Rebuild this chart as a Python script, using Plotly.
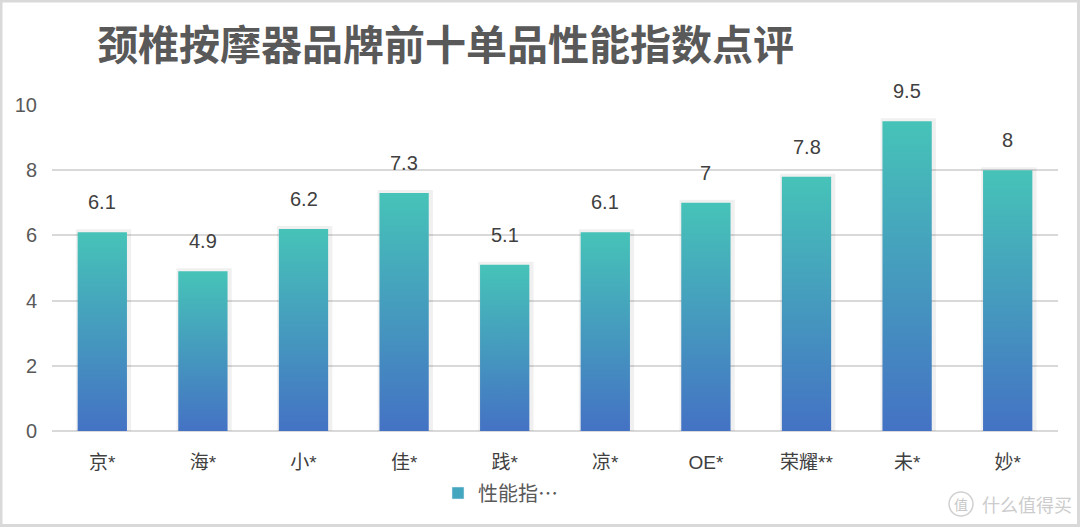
import plotly.graph_objects as go

title = "颈椎按摩器品牌前十单品性能指数点评"
categories = ["京*", "海*", "小*", "佳*", "践*", "凉*", "OE*", "荣耀**", "未*", "妙*"]
values = [6.1, 4.9, 6.2, 7.3, 5.1, 6.1, 7, 7.8, 9.5, 8]
series_name = "性能指…"
y_ticks = [0, 2, 4, 6, 8, 10]

W, H = 1080, 527
ML, MR, MT, MB = 52, 22, 105, 96
PW, PH = W - ML - MR, H - MT - MB

def px_x(p):
    return (p - ML) / PW

def px_y(p):
    return (H - MB - p) / PH

FONT = "Liberation Sans, Noto Sans CJK SC, sans-serif"
TFONT = "Noto Sans CJK SC, sans-serif"
half_w = 0.245
TOP = "#46C3B8"
BOTTOM = "#4472C4"

fig = go.Figure()

for i, v in enumerate(values):
    xs = [i - half_w, i + half_w, i + half_w, i - half_w, i - half_w]
    ys = [0, 0, v, v, 0]
    # soft shadow
    fig.add_trace(go.Scatter(
        x=[x + 0.012 for x in xs], y=ys, mode="lines",
        line=dict(color="rgba(0,0,0,0.06)", width=6),
        showlegend=False, hoverinfo="skip"))
    fig.add_trace(go.Scatter(
        x=xs, y=ys, mode="none", fill="toself",
        fillgradient=dict(type="vertical", colorscale=[[0, BOTTOM], [1, TOP]]),
        showlegend=False, hoverinfo="skip"))

# legend entry
fig.add_trace(go.Bar(x=[None], y=[None], name=series_name,
                     marker=dict(color="#45A6BF"), showlegend=True))

annotations = []
for i, v in enumerate(values):
    annotations.append(dict(
        x=i, y=v, xref="x", yref="y", text=f"{v:g}", showarrow=False,
        yanchor="middle", yshift=30,
        font=dict(family=FONT, size=20, color="#404040")))

annotations.append(dict(
    x=px_x(95), y=px_y(42), xref="paper", yref="paper", text=f"<b>{title}</b>",
    showarrow=False, xanchor="left", yanchor="middle",
    font=dict(family=TFONT, size=41, color="#595959")))

# watermark
annotations.append(dict(
    x=px_x(961), y=px_y(504), xref="paper", yref="paper", text="值",
    showarrow=False, xanchor="center", yanchor="middle",
    font=dict(family=TFONT, size=14, color="#c8c8c8")))
annotations.append(dict(
    x=px_x(980), y=px_y(504), xref="paper", yref="paper", text="什么值得买",
    showarrow=False, xanchor="left", yanchor="middle",
    font=dict(family=TFONT, size=18, color="#cccccc")))

shapes = [
    dict(type="rect", xref="paper", yref="paper",
         x0=px_x(1), x1=px_x(1078.5), y0=px_y(1), y1=px_y(525.5),
         line=dict(color="#d9d9d9", width=3), fillcolor="rgba(0,0,0,0)", layer="above"),
    dict(type="circle", xref="paper", yref="paper",
         x0=px_x(949), x1=px_x(973), y0=px_y(516), y1=px_y(492),
         line=dict(color="#d0d0d0", width=1.5)),
]

fig.update_layout(
    width=W, height=H,
    margin=dict(l=ML, r=MR, t=MT, b=MB),
    paper_bgcolor="white", plot_bgcolor="white",
    font=dict(family=FONT, color="#595959"),
    showlegend=True,
    legend=dict(orientation="h", x=px_x(438), y=px_y(493), xanchor="left", yanchor="middle",
                font=dict(family=TFONT, size=20, color="#595959"),
                bgcolor="rgba(0,0,0,0)"),
    annotations=annotations,
    shapes=shapes,
    hovermode=False,
)

fig.update_xaxes(
    range=[-0.5, len(categories) - 0.5],
    tickmode="array", tickvals=list(range(len(categories))), ticktext=categories,
    showgrid=False, zeroline=False, showline=False, ticks="",
    tickfont=dict(family=FONT, size=19, color="#404040"),
    ticklabelstandoff=18,
)
fig.update_yaxes(
    range=[0, 10], tickmode="array", tickvals=y_ticks,
    showgrid=True, gridcolor="#d9d9d9", gridwidth=1.5,
    zeroline=True, zerolinecolor="#d9d9d9", zerolinewidth=1.5,
    showline=False, ticks="",
    tickfont=dict(family=FONT, size=20, color="#595959"),
    ticklabelstandoff=14,
)

fig.write_html("out.html")
